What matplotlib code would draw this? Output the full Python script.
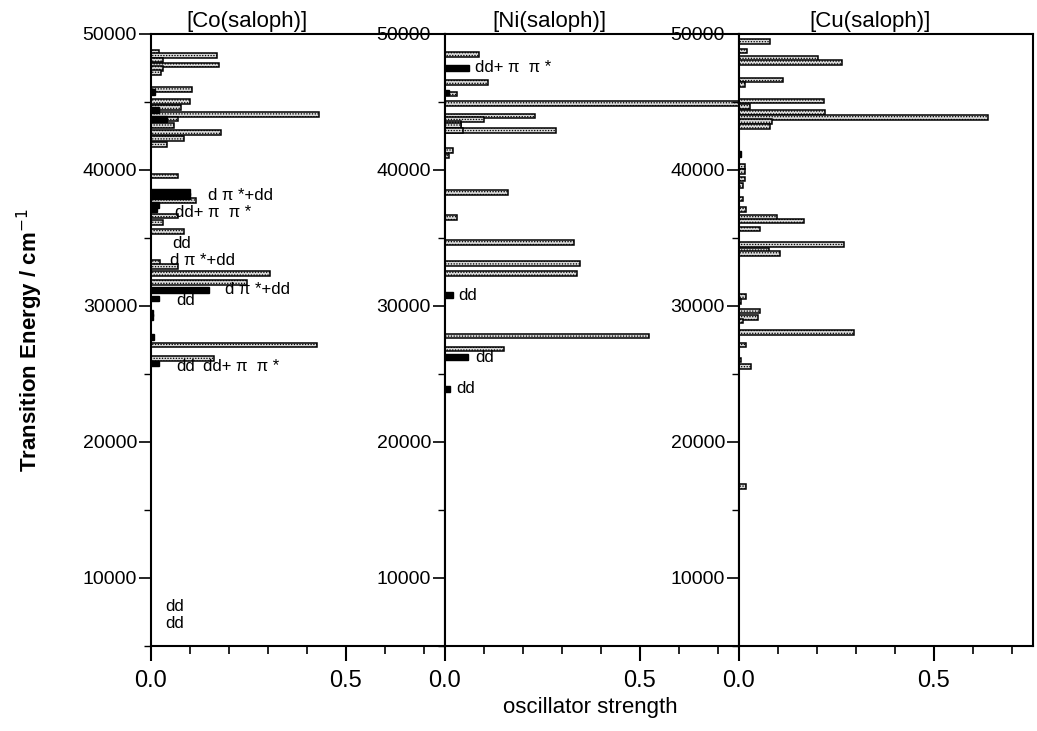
import matplotlib.pyplot as plt
from matplotlib.ticker import MultipleLocator, FixedLocator

plt.rcParams['font.family'] = ['Liberation Sans', 'DejaVu Sans']
plt.rcParams['hatch.linewidth'] = 0.6

# [Co(saloph)] - hatched (gray) and dd (black) transitions
co_gray_E = [48650, 48400, 48090, 47720, 47430, 47180, 45930, 45020, 44610,
             44070, 43750, 43510, 43240, 42740, 42330, 41890, 39560, 37770,
             36620, 36150, 35460, 33210, 32890, 32400, 31740, 27130, 26150]
co_gray_f = [0.02, 0.17, 0.03, 0.175, 0.03, 0.025, 0.104, 0.10, 0.077,
             0.43, 0.07, 0.03, 0.06, 0.18, 0.085, 0.04, 0.07, 0.115,
             0.07, 0.03, 0.085, 0.022, 0.07, 0.305, 0.247, 0.425, 0.162]
co_black_E = [45760, 44400, 43750, 38380, 38100, 37430, 37100, 31180, 30560,
              29500, 29200, 27740, 25780]
co_black_f = [0.01, 0.02, 0.04, 0.10, 0.10, 0.02, 0.015, 0.149, 0.02,
              0.005, 0.005, 0.008, 0.02]

# [Ni(saloph)]
ni_gray_E = [48500, 46450, 45590, 44900, 43970, 43680, 43430, 43240, 42890,
             42890, 41420, 41030, 38360, 36520, 34680, 33140, 32400, 27790,
             26840]
ni_gray_f = [0.087, 0.11, 0.03, 0.9, 0.23, 0.10, 0.04, 0.04, 0.286,
             0.045, 0.02, 0.01, 0.162, 0.03, 0.33, 0.346, 0.338, 0.524,
             0.151]
ni_black_E = [47480, 45700, 30810, 26230, 23900]
ni_black_f = [0.062, 0.01, 0.02, 0.06, 0.012]

# [Cu(saloph)]
cu_gray_E = [49440, 48750, 48210, 47920, 46620, 46300, 45070, 44700, 44240,
             43850, 43560, 43190, 40250, 39880, 39340, 38850, 37870, 37110,
             36520, 36250, 35660, 34540, 34070, 33870, 30680, 30320, 29630,
             29140, 28900, 28040, 27130, 26030, 25540, 16710]
cu_gray_f = [0.08, 0.02, 0.203, 0.263, 0.112, 0.015, 0.218, 0.028, 0.22,
             0.638, 0.085, 0.08, 0.015, 0.015, 0.015, 0.01, 0.01, 0.018,
             0.098, 0.167, 0.055, 0.27, 0.078, 0.105, 0.018, 0.005, 0.055,
             0.048, 0.01, 0.295, 0.018, 0.005, 0.03, 0.018]
cu_black_E = [41200]
cu_black_f = [0.005]

# transition labels (f, E, text)
co_labels = [(0.146, 38150, 'd π *+dd'), (0.062, 36900, 'dd+ π  π *'),
             (0.054, 34630, 'dd'), (0.049, 33380, 'd π *+dd'),
             (0.19, 31180, 'd π *+dd'), (0.064, 30440, 'dd'),
             (0.066, 25540, 'dd'), (0.134, 25540, 'dd+ π  π *'),
             (0.036, 7940, 'dd'), (0.036, 6620, 'dd')]
ni_labels = [(0.077, 47500, 'dd+ π  π *'), (0.033, 30740, 'dd'),
             (0.077, 26230, 'dd'), (0.028, 23900, 'dd')]
cu_labels = []

panels = [
    ('[Co(saloph)]', 0.327, co_gray_E, co_gray_f, co_black_E, co_black_f, co_labels),
    ('[Ni(saloph)]', 0.354, ni_gray_E, ni_gray_f, ni_black_E, ni_black_f, ni_labels),
    ('[Cu(saloph)]', 0.446, cu_gray_E, cu_gray_f, cu_black_E, cu_black_f, cu_labels),
]

fig = plt.figure(figsize=(10.37, 7.31), dpi=100)
lefts = [0.1456, 0.4291, 0.7126]
w = 0.2835
bottom, h = 0.1163, 0.8372

for left, (title, tx, gE, gf, bE, bf, labels) in zip(lefts, panels):
    ax = fig.add_axes([left, bottom, w, h])
    ax.barh(gE, gf, height=360, color='#d8d8d8', edgecolor='black',
            linewidth=1.1, hatch='......')
    ax.barh(bE, bf, height=420, color='black', edgecolor='black', linewidth=1.0)
    for f, E, s in labels:
        ax.text(f, E, s, fontsize=12, va='center', ha='left')
    ax.set_xlim(0, 0.754)
    ax.set_ylim(5000, 50000)
    ax.yaxis.set_major_locator(FixedLocator([10000, 20000, 30000, 40000, 50000]))
    ax.yaxis.set_minor_locator(FixedLocator([5000, 15000, 25000, 35000, 45000]))
    ax.xaxis.set_major_locator(MultipleLocator(0.5))
    ax.xaxis.set_minor_locator(MultipleLocator(0.1))
    ax.xaxis.set_major_formatter(plt.FuncFormatter(lambda v, p: '%.1f' % v))
    ax.tick_params(axis='y', which='major', direction='out', length=9, width=1.2,
                   labelsize=14, pad=1)
    ax.tick_params(axis='y', which='minor', direction='out', length=5, width=1.0)
    ax.tick_params(axis='x', which='major', direction='out', length=11, width=1.5,
                   labelsize=17, pad=6)
    ax.tick_params(axis='x', which='minor', direction='out', length=6, width=1.2)
    for sp in ax.spines.values():
        sp.set_linewidth(1.5)
    ax.text(tx, 1.003, title, transform=ax.transAxes, ha='center', va='bottom',
            fontsize=16)

fig.text(0.029, 0.535, 'Transition Energy / cm$^{-1}$', rotation=90,
         ha='center', va='center', fontsize=16, fontweight='bold')
fig.text(0.569, 0.018, 'oscillator strength', ha='center', va='bottom',
         fontsize=16)

fig.savefig('out.png', dpi=100)
